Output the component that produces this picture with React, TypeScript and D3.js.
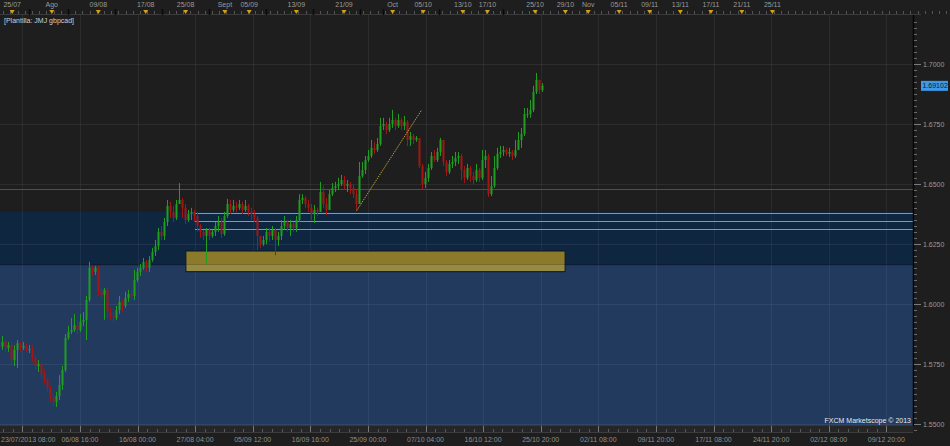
import React from 'react';
import * as d3 from 'd3';

const W = 950;
const H = 446;

// ---------- data ----------
const firstOpen = 1.5823;
const closes = [
  1.5843, 1.5818, 1.5830, 1.5768, 1.5810, 1.5838, 1.5818, 1.5826, 1.5810, 1.5813,
  1.5777, 1.5743, 1.5751, 1.5709, 1.5685, 1.5652, 1.5610, 1.5593, 1.5618, 1.5664,
  1.5726, 1.5860, 1.5885, 1.5893, 1.5914, 1.5893, 1.5927, 1.5935, 1.6018, 1.6152,
  1.6135, 1.6152, 1.6052, 1.6039, 1.6060, 1.5968, 1.5951, 1.5943, 1.5976, 1.6010,
  1.5993, 1.6027, 1.6043, 1.6035, 1.6101, 1.6135, 1.6152, 1.6177, 1.6152, 1.6185,
  1.6218, 1.6243, 1.6302, 1.6285, 1.6343, 1.6410, 1.6385, 1.6360, 1.6418, 1.6435,
  1.6402, 1.6351, 1.6376, 1.6385, 1.6368, 1.6326, 1.6302, 1.6285, 1.6310, 1.6285,
  1.6302, 1.6326, 1.6343, 1.6293, 1.6368, 1.6418, 1.6393, 1.6410, 1.6402, 1.6418,
  1.6393, 1.6410, 1.6385, 1.6376, 1.6360, 1.6285, 1.6251, 1.6268, 1.6302, 1.6285,
  1.6310, 1.6268, 1.6285, 1.6326, 1.6343, 1.6318, 1.6334, 1.6318, 1.6351, 1.6435,
  1.6443, 1.6418, 1.6402, 1.6376, 1.6393, 1.6385, 1.6468, 1.6418, 1.6393, 1.6459,
  1.6485, 1.6493, 1.6501, 1.6518, 1.6493, 1.6501, 1.6485, 1.6459, 1.6418, 1.6535,
  1.6560, 1.6601, 1.6618, 1.6652, 1.6643, 1.6668, 1.6743, 1.6751, 1.6726, 1.6751,
  1.6768, 1.6743, 1.6768, 1.6743, 1.6760, 1.6685, 1.6701, 1.6685, 1.6693, 1.6576,
  1.6501, 1.6527, 1.6568, 1.6618, 1.6601, 1.6635, 1.6685, 1.6593, 1.6552, 1.6585,
  1.6593, 1.6610, 1.6618, 1.6560, 1.6527, 1.6568, 1.6535, 1.6518, 1.6560, 1.6527,
  1.6601, 1.6618, 1.6459, 1.6493, 1.6568, 1.6627, 1.6635, 1.6643, 1.6627, 1.6635,
  1.6618, 1.6643, 1.6685, 1.6710, 1.6793, 1.6793, 1.6810, 1.6885, 1.6935, 1.6893,
  1.69102,
];
const highs = [
  1.5868, 1.5851, 1.5843, 1.5843, 1.5830, 1.5851, 1.5843, 1.5843, 1.5838, 1.5830,
  1.5830, 1.5785, 1.5768, 1.5760, 1.5726, 1.5693, 1.5660, 1.5626, 1.5635, 1.5705,
  1.5743, 1.5876, 1.5910, 1.5943, 1.5959, 1.5935, 1.5959, 1.5968, 1.6035, 1.6177,
  1.6160, 1.6160, 1.6160, 1.6068, 1.6068, 1.6068, 1.5985, 1.5968, 1.5993, 1.6035,
  1.6018, 1.6052, 1.6060, 1.6060, 1.6143, 1.6152, 1.6168, 1.6193, 1.6185, 1.6201,
  1.6235, 1.6268, 1.6318, 1.6326, 1.6360, 1.6435, 1.6427, 1.6410, 1.6435, 1.6505,
  1.6443, 1.6418, 1.6393, 1.6402, 1.6393, 1.6385, 1.6334, 1.6310, 1.6318, 1.6318,
  1.6310, 1.6343, 1.6368, 1.6360, 1.6385, 1.6439, 1.6435, 1.6435, 1.6427, 1.6435,
  1.6427, 1.6435, 1.6418, 1.6402, 1.6393, 1.6368, 1.6285, 1.6285, 1.6318, 1.6318,
  1.6326, 1.6318, 1.6302, 1.6351, 1.6368, 1.6351, 1.6351, 1.6343, 1.6368, 1.6459,
  1.6459, 1.6451, 1.6435, 1.6418, 1.6414, 1.6402, 1.6510, 1.6493, 1.6443, 1.6476,
  1.6505, 1.6510, 1.6527, 1.6539, 1.6535, 1.6518, 1.6510, 1.6501, 1.6476, 1.6593,
  1.6593, 1.6618, 1.6643, 1.6685, 1.6677, 1.6693, 1.6777, 1.6777, 1.6760, 1.6777,
  1.6810, 1.6777, 1.6793, 1.6777, 1.6785, 1.6768, 1.6718, 1.6710, 1.6701, 1.6693,
  1.6585, 1.6552, 1.6585, 1.6635, 1.6643, 1.6652, 1.6693, 1.6685, 1.6601, 1.6601,
  1.6618, 1.6635, 1.6635, 1.6627, 1.6576, 1.6585, 1.6576, 1.6552, 1.6585, 1.6568,
  1.6643, 1.6643, 1.6627, 1.6535, 1.6618, 1.6652, 1.6660, 1.6660, 1.6652, 1.6652,
  1.6643, 1.6685, 1.6718, 1.6735, 1.6818, 1.6818, 1.6851, 1.6910, 1.6964, 1.6935,
  1.6922,
];
const lows = [
  1.5810, 1.5802, 1.5802, 1.5751, 1.5743, 1.5735, 1.5802, 1.5810, 1.5802, 1.5797,
  1.5760, 1.5726, 1.5718, 1.5693, 1.5672, 1.5635, 1.5593, 1.5576, 1.5572, 1.5601,
  1.5643, 1.5718, 1.5851, 1.5876, 1.5885, 1.5876, 1.5885, 1.5910, 1.5851, 1.6010,
  1.6118, 1.6122, 1.6035, 1.6027, 1.5935, 1.5943, 1.5935, 1.5927, 1.5935, 1.5959,
  1.5968, 1.5985, 1.6010, 1.6018, 1.6018, 1.6093, 1.6118, 1.6143, 1.6135, 1.6135,
  1.6177, 1.6201, 1.6226, 1.6268, 1.6268, 1.6326, 1.6360, 1.6343, 1.6351, 1.6418,
  1.6360, 1.6334, 1.6343, 1.6351, 1.6343, 1.6302, 1.6277, 1.6268, 1.6168, 1.6268,
  1.6277, 1.6285, 1.6302, 1.6277, 1.6285, 1.6360, 1.6376, 1.6385, 1.6385, 1.6393,
  1.6376, 1.6385, 1.6368, 1.6351, 1.6343, 1.6226, 1.6235, 1.6243, 1.6251, 1.6260,
  1.6268, 1.6205, 1.6243, 1.6268, 1.6310, 1.6302, 1.6285, 1.6302, 1.6302, 1.6343,
  1.6418, 1.6402, 1.6385, 1.6351, 1.6339, 1.6368, 1.6385, 1.6402, 1.6372, 1.6393,
  1.6451, 1.6468, 1.6476, 1.6493, 1.6476, 1.6468, 1.6459, 1.6443, 1.6393, 1.6418,
  1.6527, 1.6543, 1.6593, 1.6610, 1.6627, 1.6635, 1.6660, 1.6726, 1.6710, 1.6718,
  1.6735, 1.6726, 1.6735, 1.6726, 1.6726, 1.6660, 1.6660, 1.6668, 1.6677, 1.6568,
  1.6476, 1.6485, 1.6510, 1.6560, 1.6593, 1.6593, 1.6618, 1.6576, 1.6535, 1.6543,
  1.6568, 1.6576, 1.6585, 1.6518, 1.6505, 1.6518, 1.6510, 1.6501, 1.6510, 1.6510,
  1.6518, 1.6568, 1.6447, 1.6451, 1.6485, 1.6560, 1.6610, 1.6618, 1.6618, 1.6614,
  1.6601, 1.6610, 1.6643, 1.6652, 1.6701, 1.6777, 1.6777, 1.6801, 1.6876, 1.6876,
  1.6885,
];

const priceTicks = [1.55, 1.575, 1.6, 1.625, 1.65, 1.675, 1.7];
const lastPrice = 1.69102;

const bottomLabels = [
  '23/07/2013 08:00', '06/08 16:00', '16/08 00:00', '27/08 04:00', '05/09 12:00',
  '16/09 16:00', '25/09 00:00', '07/10 04:00', '16/10 12:00', '25/10 20:00',
  '02/11 08:00', '09/11 20:00', '17/11 08:00', '24/11 20:00', '02/12 08:00', '09/12 20:00',
];
const bottomFirstIdx = 6.77;
const bottomStepIdx = 19.2;

// top date markers (candle-index units)
const topLabels = [
  '25/07', 'Ago', '09/08', '17/08', '25/08', 'Sept', '05/09', '13/09', '21/09', 'Oct', '05/10',
  '13/10', '17/10', '25/10', '29/10', 'Nov', '05/11', '09/11', '13/11', '17/11', '21/11', '25/11',
];
const topLabelIdx = [
  3.4, 16.6, 32.1, 47.9, 61.2, 74.3, 82.4, 98.1, 114, 130.2, 140.4,
  153.6, 161.8, 177.7, 187.8, 195.4, 205.7, 215.9, 226.1, 236.3, 246.6, 256.8,
];
const topMinorMarkIdx = [9, 21.9, 37.6, 53.4, 69.1, 87.9, 103.6, 119.3, 127.1, 145.8, 167.1];

// zones / drawings
const darkZone = [1.6386, 1.6165];
const lightZone = [1.6165, 1.54];
const orangeLevel = 1.6479;
const grayLevels = [1.6379, 1.6346, 1.6313];
const grayLevelStartIdx = 64.3;
const yellowBox = { i0: 61.3, i1: 187.7, top: 1.6222, bottom: 1.6136 };
const trend = { i0: 118.2, p0: 1.639, i1: 139.9, p1: 1.681 };

export default function App() {
  const plotL = 0;
  const plotR = 913;
  const plotT = 15;
  const plotB = 426;

  const n = closes.length;
  const x = d3.scaleLinear().domain([0, n - 1]).range([2, 542]);
  const y = d3.scaleLinear().domain([1.55, 1.7]).range([424.3, 64.3]);

  const candles = closes.map((c, i) => {
    const o = i === 0 ? firstOpen : closes[i - 1];
    const hi = Math.max(highs[i], o, c);
    const lo = Math.min(lows[i], o, c);
    return { i, o, c, hi, lo, up: c >= o };
  });

  const gridIdx = d3.range(bottomLabels.length).map((k) => bottomFirstIdx + bottomStepIdx * k);
  const minorBottom = d3.range(0, 16 * 6).map((k) => bottomFirstIdx - bottomStepIdx + (bottomStepIdx / 6) * k);
  const minorTop = d3.range(0, 140).map((k) => -2 + (bottomStepIdx / 8) * k);
  const minorPrice = d3.range(1.5475, 1.72, 0.0025);

  const font = 'Liberation Sans, Arial, sans-serif';
  const upCol = '#1f9e1f';
  const dnCol = '#a31616';

  const ybX = x(yellowBox.i0);
  const ybW = x(yellowBox.i1) - x(yellowBox.i0);
  const ybTop = y(yellowBox.top);
  const ybSplit = y(lightZone[0]);
  const ybBot = y(yellowBox.bottom);

  return (
    <svg width={W} height={H} style={{ position: 'fixed', left: 0, top: 0, background: '#1e1e1e' }}>
      <rect x={0} y={0} width={W} height={H} fill="#1e1e1e" />
      <defs>
        <clipPath id="plot">
          <rect x={plotL} y={plotT} width={plotR - plotL} height={plotB - plotT} />
        </clipPath>
      </defs>
      <g clipPath="url(#plot)">
        {/* zones */}
        <rect x={plotL} width={plotR - plotL} y={y(darkZone[0])} height={y(darkZone[1]) - y(darkZone[0])} fill="#0e2640" />
        <rect x={plotL} width={plotR - plotL} y={y(lightZone[0])} height={y(lightZone[1]) - y(lightZone[0])} fill="#213a5e" />
        <line x1={plotL} x2={plotR} y1={y(lightZone[0])} y2={y(lightZone[0])} stroke="#0a1c30" strokeWidth={1} />
        {/* grid */}
        {priceTicks.map((p) => (
          <line key={'hg' + p} x1={plotL} x2={plotR} y1={Math.round(y(p)) + 0.5} y2={Math.round(y(p)) + 0.5} stroke="#ffffff" strokeOpacity={0.07} />
        ))}
        {gridIdx.map((g) => (
          <line key={'vg' + g} x1={Math.round(x(g)) + 0.5} x2={Math.round(x(g)) + 0.5} y1={plotT} y2={plotB} stroke="#ffffff" strokeOpacity={0.06} />
        ))}
        {/* levels */}
        <line x1={plotL} x2={plotR} y1={Math.round(y(orangeLevel)) + 0.5} y2={Math.round(y(orangeLevel)) + 0.5} stroke="#7b4321" strokeWidth={1} />
        {grayLevels.map((p) => (
          <line key={'gl' + p} x1={x(grayLevelStartIdx)} x2={plotR} y1={Math.round(y(p)) + 0.5} y2={Math.round(y(p)) + 0.5} stroke="#8796ad" strokeWidth={1} />
        ))}
        {/* yellow box */}
        <rect x={ybX} y={ybTop} width={ybW} height={ybSplit - ybTop} fill="#8b7a29" />
        <rect x={ybX} y={ybSplit} width={ybW} height={ybBot - ybSplit} fill="#978a43" />
        <rect x={ybX} y={ybTop} width={ybW} height={ybBot - ybTop} fill="none" stroke="#0a1828" strokeWidth={1} />
        {/* candles */}
        {candles.map((d) => {
          const cx = Math.round(x(d.i));
          const col = d.up ? upCol : dnCol;
          const top = y(Math.max(d.o, d.c));
          const bot = y(Math.min(d.o, d.c));
          return (
            <g key={d.i}>
              <line x1={cx + 0.5} x2={cx + 0.5} y1={y(d.hi)} y2={y(d.lo)} stroke={col} strokeWidth={1} />
              <rect x={cx - 0.5} y={top} width={2} height={Math.max(1, bot - top)} fill={col} />
            </g>
          );
        })}
        {/* trend line */}
        <line x1={x(trend.i0)} y1={y(trend.p0)} x2={x(trend.i1)} y2={y(trend.p1)} stroke="#b8a338" strokeWidth={1} strokeDasharray="1.5,1" />
        <text x={plotR - 2} y={plotB - 3} fontFamily={font} fontSize={7} fill="#e8e8e8" textAnchor="end">
          FXCM Marketscope © 2013
        </text>
        <text x={4} y={23} fontFamily={font} fontSize={7} fill="#cfcfcf">
          [Plantilla: JMJ gbpcad]
        </text>
      </g>

      {/* right axis */}
      <line x1={plotR + 0.5} x2={plotR + 0.5} y1={plotT} y2={plotB} stroke="#050505" strokeWidth={1.5} />
      {minorPrice.map((p) => (
        <line key={'mp' + p} x1={plotR + 1} x2={plotR + 4} y1={Math.round(y(p)) + 0.5} y2={Math.round(y(p)) + 0.5} stroke="#6a6a6a" />
      ))}
      {priceTicks.map((p) => (
        <g key={'pt' + p}>
          <line x1={plotR + 1} x2={plotR + 8} y1={Math.round(y(p)) + 0.5} y2={Math.round(y(p)) + 0.5} stroke="#7a7a7a" />
          <text x={plotR + 10} y={y(p) + 2.5} fontFamily={font} fontSize={7} fill="#9a9a9a">
            {p.toFixed(4)}
          </text>
        </g>
      ))}
      <rect x={plotR + 8} y={y(lastPrice) - 5} width={27} height={10} fill="#3d9ae8" />
      <text x={plotR + 9.5} y={y(lastPrice) + 2.5} fontFamily={font} fontSize={7} fill="#0a1830">
        {lastPrice.toFixed(5)}
      </text>

      {/* top axis */}
      <line x1={0} x2={plotR + 8} y1={plotT - 0.5} y2={plotT - 0.5} stroke="#3a3a3a" />
      {minorTop.map((k) => (
        <line key={'mt' + k} x1={Math.round(x(k)) + 0.5} x2={Math.round(x(k)) + 0.5} y1={11} y2={14} stroke="#555" />
      ))}
      {topMinorMarkIdx.map((k) => (
        <line key={'tm' + k} x1={Math.round(x(k)) + 0.5} x2={Math.round(x(k)) + 0.5} y1={9} y2={15} stroke="#0a0a0a" strokeWidth={1.5} />
      ))}
      {topLabelIdx.map((k, j) => {
        const cx = x(k);
        return (
          <g key={'tl' + j}>
            <path d={`M${cx - 2.5},10 L${cx + 2.5},10 L${cx},14 Z`} fill="#d4a017" />
            <text x={cx} y={7} fontFamily={font} fontSize={7} fill="#9a9a9a" textAnchor="middle">
              {topLabels[j]}
            </text>
          </g>
        );
      })}

      {/* bottom axis */}
      <rect x={0} y={plotB} width={plotR} height={7} fill="#262626" />
      <line x1={0} x2={plotR} y1={plotB + 6.5} y2={plotB + 6.5} stroke="#3c3c3c" />
      {minorBottom.map((k) => (
        <line key={'mb' + k} x1={Math.round(x(k)) + 0.5} x2={Math.round(x(k)) + 0.5} y1={plotB + 3} y2={plotB + 6} stroke="#5a5a5a" />
      ))}
      {gridIdx.map((g, j) => (
        <g key={'bl' + j}>
          <line x1={Math.round(x(g)) + 0.5} x2={Math.round(x(g)) + 0.5} y1={plotB} y2={plotB + 6} stroke="#777" />
          <text x={j === 0 ? 1 : x(g)} y={442} fontFamily={font} fontSize={7} fill="#8e8e8e" textAnchor={j === 0 ? 'start' : 'middle'}>
            {bottomLabels[j]}
          </text>
        </g>
      ))}
    </svg>
  );
}
